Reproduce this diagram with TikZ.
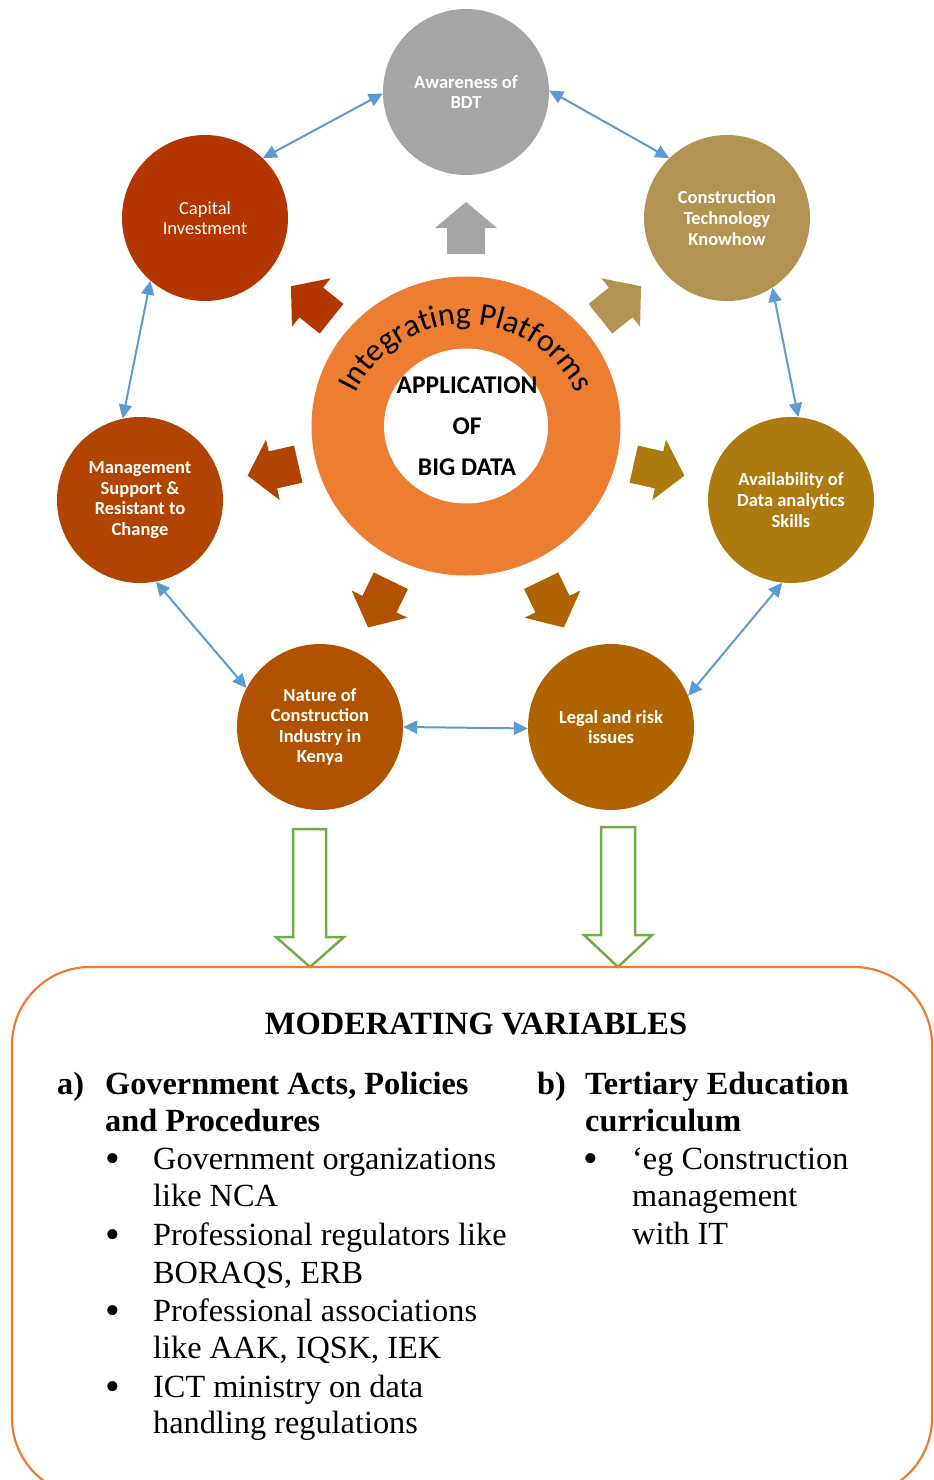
\documentclass[tikz,border=0pt]{standalone}
\usepackage{fontspec}
\setmainfont{Liberation Serif}
\newfontfamily\carl{Carlito}
\usetikzlibrary{arrows.meta,decorations.text,shapes.geometric}
\definecolor{corange}{HTML}{ED7D31}
\definecolor{cgray}{HTML}{A5A5A5}
\definecolor{ccap}{HTML}{B33500}
\definecolor{ctan}{HTML}{B29352}
\definecolor{cmgmt}{HTML}{B04400}
\definecolor{cavail}{HTML}{AD7A10}
\definecolor{cnat}{HTML}{B05200}
\definecolor{clegal}{HTML}{AF6400}
\definecolor{cblue}{HTML}{5B9BD5}
\definecolor{cgreen}{HTML}{70AD47}
\newcommand{\bigbul}{{\fontsize{42}{37}\selectfont\textbullet}}
\begin{document}
\begin{tikzpicture}[x=1pt,y=1pt,
  bub/.style={circle, minimum size=166pt, inner sep=0pt, text=white, align=center,
    font=\carl\bfseries\fontsize{18.5}{20.6}\selectfont},
  blink/.style={draw=cblue, line width=2pt, {Triangle[length=14pt,width=13pt]}-{Triangle[length=14pt,width=13pt]}},
  garrow/.style={draw=cgreen, line width=2.5pt, line join=miter, fill=white},
  txt/.style={anchor=base west, inner sep=0pt, font=\fontsize{32.3}{37}\selectfont},
  txtb/.style={txt, font=\bfseries\fontsize{32.3}{37}\selectfont},
  bul/.style={anchor=base, inner sep=0pt, font=\fontsize{32.3}{37}\selectfont}]
\useasboundingbox (0,0) rectangle (934,-1480);
\clip (0,0) rectangle (934,-1480);

% centre ring
\node[ellipse, fill=corange, minimum width=309pt, minimum height=299pt, inner sep=0pt] (ring) at (466,-426) {};
\node[ellipse, fill=white, minimum width=164pt, minimum height=155pt, inner sep=0pt] (core) at (466,-426) {};
\path[decorate, decoration={text along path,
  text={|\carl\fontsize{32}{32}\selectfont|Integrating Platforms}, text align=center}]
  (346.65,-417.24) arc[start angle=166, end angle=14, radius=123];
\node[align=center, font=\carl\bfseries\fontsize{25.5}{41}\selectfont] (apptext) at (467,-426)
  {APPLICATION\\OF\\BIG DATA};

% outer factors
\node[bub, fill=cgray] (aw) at (466,-92) {Awareness of\\BDT};
\node[bub, fill=ccap, font=\carl\fontsize{18.5}{20.6}\selectfont] (cap) at (205,-218) {Capital\\Investment};
\node[bub, fill=ctan] (ctk) at (727,-218) {Construction\\Technology\\Knowhow};
\node[bub, fill=cmgmt] (mgt) at (140,-500) {Management\\Support \&\\Resistant to\\Change};
\node[bub, fill=cavail] (ava) at (791,-500) {Availability of\\Data analytics\\Skills};
\node[bub, fill=cnat] (nat) at (320,-727) {Nature of\\Construction\\Industry in\\Kenya};
\node[bub, fill=clegal] (leg) at (611,-727) {Legal and risk\\issues};

% block arrows from the ring
\foreach \ang/\col in {90/cgray, 141.4/ccap, 38.6/ctan, 192.8/cmgmt, -12.8/cavail, 244.1/cnat, -64.1/clegal}{
  \fill[\col, shift={(ring.center)}, rotate=\ang]
    (224,0) -- (198,31) -- (198,19) -- (172,19) -- (172,-19) -- (198,-19) -- (198,-31) -- cycle;
}

% links between factors
\draw[blink] (aw.181) -- (cap.46);
\draw[blink] (aw.1) -- (ctk.134);
\draw[blink] (cap.229) -- (mgt.102);
\draw[blink] (ctk.303) -- (ava.85);
\draw[blink] (mgt.281) -- (nat.152);
\draw[blink] (ava.264) -- (leg.22);
\draw[blink] (nat.0) -- (leg.181);

% green hollow arrows
\draw[garrow] (293,-829) -- (326,-829) -- (326,-937) -- (344,-937) -- (310,-967) -- (276,-937) -- (293,-937) -- cycle;
\draw[garrow] (601,-827) -- (635,-827) -- (635,-935) -- (652,-935) -- (618,-967) -- (584,-935) -- (601,-935) -- cycle;

% moderating box
\draw[corange, line width=2.2pt, rounded corners=78pt] (12,-967) rectangle (932,-1496);
\node[anchor=base, inner sep=0pt, font=\bfseries\fontsize{32.5}{37}\selectfont] (title) at (476,-1034) {MODERATING VARIABLES};

\node[txtb] (la) at (57,-1094) {a)};
\node[txtb] (la1) at (105,-1094) {Government Acts, Policies};
\node[txtb] (la2) at (105,-1131) {and Procedures};
\node[bul] (b1) at (113,-1172) {\bigbul};
\node[txt] (l1) at (153,-1169) {Government organizations};
\node[txt] (l2) at (153,-1206) {like NCA};
\node[bul] (b2) at (113,-1248) {\bigbul};
\node[txt] (l3) at (153,-1245) {Professional regulators like};
\node[txt] (l4) at (153,-1283) {BORAQS, ERB};
\node[bul] (b3) at (113,-1324) {\bigbul};
\node[txt] (l5) at (153,-1321) {Professional associations};
\node[txt] (l6) at (153,-1358) {like AAK, IQSK, IEK};
\node[bul] (b4) at (113,-1400) {\bigbul};
\node[txt] (l7) at (153,-1397) {ICT ministry on data};
\node[txt] (l8) at (153,-1433) {handling regulations};

\node[txtb] (rb) at (537,-1094) {b)};
\node[txtb] (rb1) at (585,-1094) {Tertiary Education};
\node[txtb] (rb2) at (585,-1131) {curriculum};
\node[bul] (b5) at (591,-1172) {\bigbul};
\node[txt] (r1) at (632,-1169) {‘eg Construction};
\node[txt] (r2) at (632,-1206) {management};
\node[txt] (r3) at (632,-1244) {with IT};
\end{tikzpicture}
\end{document}
